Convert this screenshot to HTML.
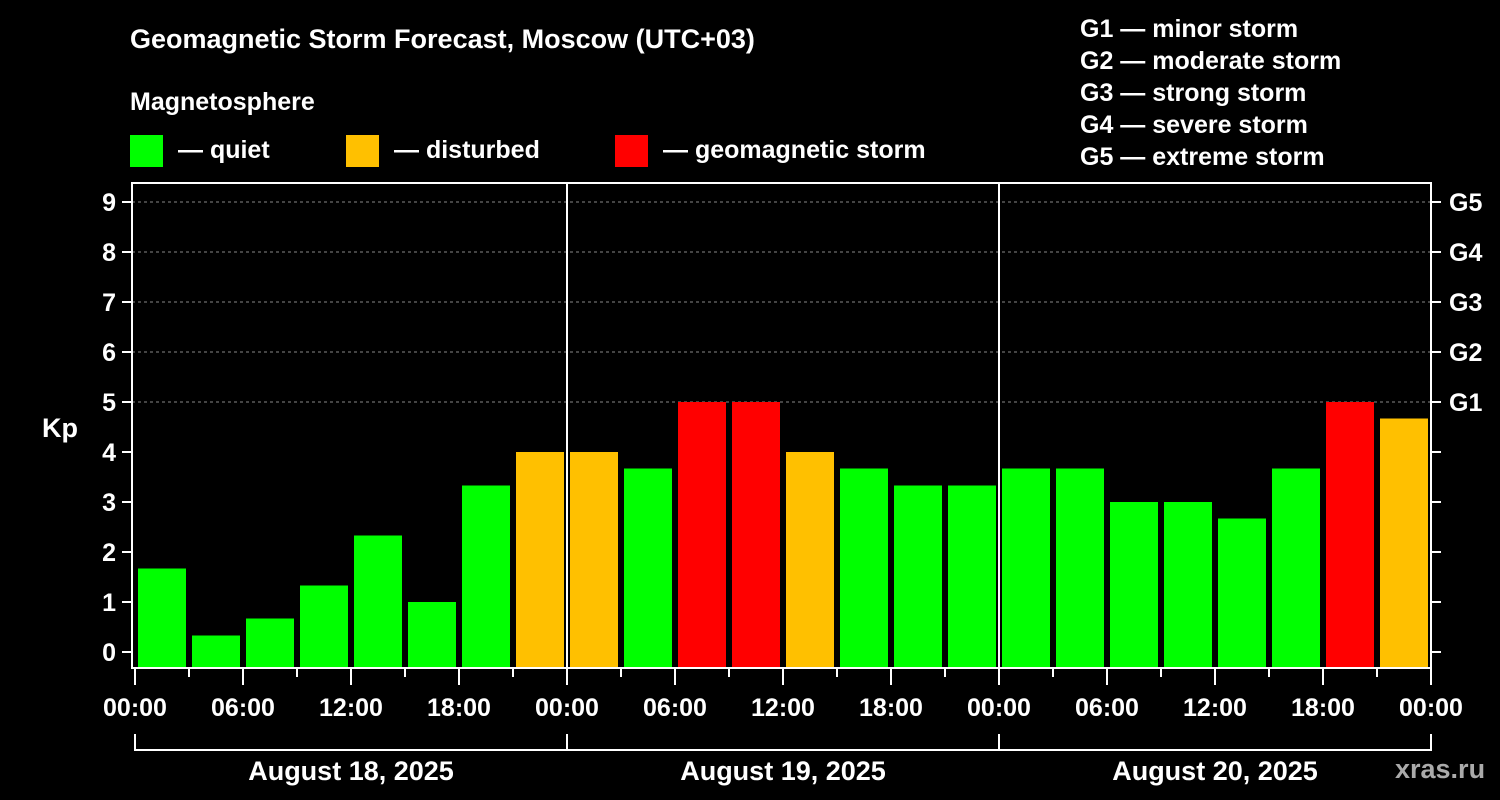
<!DOCTYPE html>
<html><head><meta charset="utf-8"><style>
body{margin:0;background:#000;width:1500px;height:800px;overflow:hidden}
svg{display:block}
text{font-family:"Liberation Sans",sans-serif;font-weight:bold;fill:#fff}
</style></head><body>
<svg id="c" width="1500" height="800">
<text x="130" y="48" font-size="27">Geomagnetic Storm Forecast, Moscow (UTC+03)</text>
<text x="130" y="110" font-size="25">Magnetosphere</text>
<g><rect x="130" y="135" width="33" height="32" fill="#00ff00"/><text x="178" y="158" font-size="25">— quiet</text></g>
<g><rect x="346" y="135" width="33" height="32" fill="#ffc000"/><text x="394" y="158" font-size="25">— disturbed</text></g>
<g><rect x="615" y="135" width="33" height="32" fill="#ff0000"/><text x="663" y="158" font-size="25">— geomagnetic storm</text></g>
<g font-size="25">
<text x="1080" y="37">G1 — minor storm</text><text x="1080" y="69">G2 — moderate storm</text><text x="1080" y="101">G3 — strong storm</text><text x="1080" y="133">G4 — severe storm</text><text x="1080" y="165">G5 — extreme storm</text></g>
<text x="42" y="437" font-size="27">Kp</text>
<text x="1395" y="778" font-size="27" fill="#aaa" style="fill:#aaa">xras.ru</text>
<g id="plot"></g>
</svg>
<script>
const kpValues=[1.67,0.33,0.67,1.33,2.33,1.0,3.33,4.0,4.0,3.67,5,5,4.0,3.67,3.33,3.33,3.67,3.67,3.0,3.0,2.67,3.67,5,4.67];
const yTicks=[0,1,2,3,4,5,6,7,8,9];
const gLabels=["G1","G2","G3","G4","G5"];
const xLabels=["00:00","06:00","12:00","18:00","00:00","06:00","12:00","18:00","00:00","06:00","12:00","18:00","00:00"];
const dayLabels=["August 18, 2025","August 19, 2025","August 20, 2025"];
const NS="http://www.w3.org/2000/svg",g=document.getElementById('plot');
const X0=135,SLOT=54,Y0=652,UNIT=50,BOT=668,TOP=183,RIGHT=1431;
const y=v=>Y0-v*UNIT, x=i=>X0+i*SLOT;
function mk(t,a,p){const e=document.createElementNS(NS,t);for(const k in a)e.setAttribute(k,a[k]);(p||g).appendChild(e);return e;}
function col(v){return v>=5?"#ff0000":v>=4?"#ffc000":"#00ff00";}
// grid
for(let k=5;k<=9;k++){const l=mk('line',{x1:132,x2:RIGHT,y1:y(k),y2:y(k),stroke:'#888','stroke-dasharray':'3,3','stroke-width':1});

}
// bars
kpValues.forEach((v,i)=>{const r=mk('rect',{x:x(i)+3,y:y(v),width:48,height:BOT-y(v),fill:col(v)});

});
// frame
const fr=mk('rect',{x:132,y:TOP,width:RIGHT-132,height:BOT-TOP,fill:'none',stroke:'#fff','stroke-width':2});


[8,16].forEach(i=>{const l=mk('line',{x1:x(i),x2:x(i),y1:TOP,y2:BOT,stroke:'#fff','stroke-width':2});

});
// y ticks
yTicks.forEach(v=>{mk('line',{x1:122,x2:132,y1:y(v),y2:y(v),stroke:'#fff','stroke-width':2});
mk('line',{x1:RIGHT,x2:RIGHT+10,y1:y(v),y2:y(v),stroke:'#fff','stroke-width':2});
const t=mk('text',{x:116,y:y(v)+9,'font-size':25,'text-anchor':'end'});t.textContent=v;

});
gLabels.forEach((s,i)=>{const t=mk('text',{x:1449,y:y(5+i)+9,'font-size':25});t.textContent=s;

});
// x ticks
for(let i=0;i<=24;i++){mk('line',{x1:x(i),x2:x(i),y1:BOT,y2:BOT+(i%2?9:17),stroke:'#fff','stroke-width':2});}
xLabels.forEach((s,i)=>{const t=mk('text',{x:x(i*2),y:716,'font-size':25,'text-anchor':'middle'});t.textContent=s;

});
// day brackets
mk('path',{d:`M${x(0)} 734V750H${x(24)}V734M${x(8)} 734V750M${x(16)} 734V750`,stroke:'#fff','stroke-width':2,fill:'none'});
dayLabels.forEach((s,i)=>{const t=mk('text',{x:x(i*8+4),y:780,'font-size':27,'text-anchor':'middle'});t.textContent=s;

});
</script>
</body></html>
